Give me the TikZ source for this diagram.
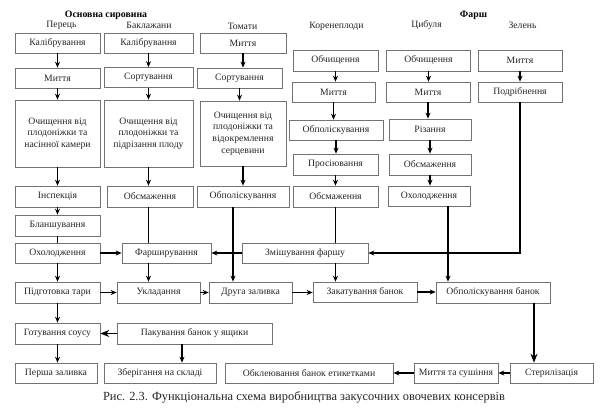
\documentclass[tikz,border=0pt]{standalone}
\usepackage{fontspec}
\setmainfont{Liberation Serif}
\usetikzlibrary{arrows.meta}
\begin{document}
\begin{tikzpicture}[x=1pt,y=-1pt,
  box/.style={draw=black!55, line width=0.7pt, fill=white, inner sep=1pt,
    font=\fontsize{9.7}{11.6}\selectfont, text=black!85, align=center},
  arr/.style={-{Stealth[length=6pt,width=5pt]}, line width=1.1pt},
  ln/.style={line width=1.1pt},
  bigarr/.style={-{Stealth[length=9pt,width=7pt]}, line width=1.1pt},
  hdr/.style={font=\fontsize{9.7}{11}\selectfont, text=black!85},
  bhdr/.style={font=\bfseries\fontsize{9.8}{11}\selectfont},
]
\useasboundingbox[fill=white] (0,0) rectangle (600,413);

% headers
\node[bhdr] (h1) at (106,15) {Основна сировина};
\node[bhdr] (h2) at (473.5,15) {Фарш};
\node[hdr] (hp) at (61.5,25.5) {Перець};
\node[hdr] (hb) at (149,25.5) {Баклажани};
\node[hdr] (ht) at (242.5,26) {Томати};
\node[hdr] (hk) at (336.5,26) {Коренеплоди};
\node[hdr] (hc) at (426.5,25.5) {Цибуля};
\node[hdr] (hz) at (522.5,25.5) {Зелень};

% column 1
\node[box, minimum width=85pt, minimum height=20pt] (p1) at (57.5,43) {Калібрування};
\node[box, minimum width=85pt, minimum height=20pt] (p2) at (57.5,78) {Миття};
\node[box, minimum width=85pt, minimum height=67pt] (p3) at (57.5,133.5) {Очищення від\\плодоніжки та\\насінної камери};
\node[box, minimum width=85pt, minimum height=21pt] (p4) at (57.5,196.5) {Інспекція};
\node[box, minimum width=85pt, minimum height=21pt] (p5) at (57.5,225.5) {Бланшування};
\node[box, minimum width=85pt, minimum height=20pt] (p6) at (57.5,253) {Охолодження};
\node[box, minimum width=85pt, minimum height=21pt] (p7) at (57.5,292.5) {Підготовка тари};
\node[box, minimum width=85pt, minimum height=21pt] (p8) at (57.5,333.5) {Готування соусу};
\node[box, minimum width=82pt, minimum height=20pt] (p9) at (56,373) {Перша заливка};

% column 2
\node[box, minimum width=89pt, minimum height=20pt] (b1) at (148.5,43) {Калібрування};
\node[box, minimum width=89pt, minimum height=20pt] (b2) at (148.5,77.5) {Сортування};
\node[box, minimum width=89pt, minimum height=67pt] (b3) at (148.5,133.5) {Очищення від\\плодоніжки та\\підрізання плоду};
\node[box, minimum width=86pt, minimum height=21pt] (b4) at (150,196.5) {Обсмаження};
\node[box, minimum width=89pt, minimum height=20pt] (f) at (166.5,253) {Фарширування};
\node[box, minimum width=83pt, minimum height=21pt] (u) at (158.5,292.5) {Укладання};
\node[box, minimum width=155pt, minimum height=21pt] (pk) at (194.5,333.5) {Пакування банок у ящики};
\node[box, minimum width=112pt, minimum height=20pt] (zb) at (160,373) {Зберігання на складі};

% column 3
\node[box, minimum width=86pt, minimum height=20pt] (t1) at (243,43) {Миття};
\node[box, minimum width=85pt, minimum height=20pt] (t2) at (239.5,78) {Сортування};
\node[box, minimum width=86pt, minimum height=65pt] (t3) at (243,133.5) {Очищення від\\плодоніжки та\\відокремлення\\серцевини};
\node[box, minimum width=92pt, minimum height=21pt] (t4) at (243,196.5) {Обполіскування};
\node[box, minimum width=83pt, minimum height=21pt] (dz) at (250.5,292.5) {Друга заливка};

% column 4
\node[box, minimum width=85pt, minimum height=21pt] (k1) at (335.5,60.5) {Обчищення};
\node[box, minimum width=83pt, minimum height=20pt] (k2) at (333.5,92) {Миття};
\node[box, minimum width=94pt, minimum height=20pt] (k3) at (336,130) {Обполіскування};
\node[box, minimum width=85pt, minimum height=21pt] (k4) at (335.5,164.5) {Просіювання};
\node[box, minimum width=85pt, minimum height=21pt] (k5) at (335.5,196.5) {Обсмаження};
\node[box, minimum width=126pt, minimum height=20pt] (zm) at (305,253) {Змішування фаршу};
\node[box, minimum width=104pt, minimum height=20pt] (zk) at (365,292) {Закатування банок};

% column 5
\node[box, minimum width=84pt, minimum height=21pt] (c1) at (428.5,60.5) {Обчищення};
\node[box, minimum width=84pt, minimum height=20pt] (c2) at (428,92) {Миття};
\node[box, minimum width=82pt, minimum height=21pt] (c3) at (430,129.5) {Різання};
\node[box, minimum width=82pt, minimum height=21pt] (c4) at (430,164.5) {Обсмаження};
\node[box, minimum width=82pt, minimum height=20pt] (c5) at (429,196) {Охолодження};
\node[box, minimum width=114pt, minimum height=21pt] (ob) at (493,292.5) {Обполіскування банок};
\node[box, minimum width=83pt, minimum height=20pt] (st) at (551.5,373) {Стерилізація};
\node[box, minimum width=84pt, minimum height=20pt] (ms) at (456,373) {Миття та сушіння};
\node[box, minimum width=168pt, minimum height=20pt] (oe) at (309,373) {Обклеювання банок етикетками};

% column 6
\node[box, minimum width=84pt, minimum height=21pt] (z1) at (520,60.5) {Миття};
\node[box, minimum width=84pt, minimum height=20pt] (z2) at (520,92) {Подрібнення};

% caption
\node[font=\fontsize{12.4}{14}\selectfont, text=black!85] (cap) at (304,397.5) {Рис. 2.3. Функціональна схема виробництва закусочних овочевих консервів};

% vertical arrows in columns
\foreach \a/\b in {p1/p2,p2/p3,p3/p4,p4/p5,p6/p7,p7/p8,p8/p9,b1/b2,b2/b3,b3/b4,t1/t2,t2/t3,t3/t4,k1/k2,k2/k3,k3/k4,k4/k5,c1/c2,c2/c3,c3/c4,c4/c5,z1/z2}
  \draw[arr] (\a.south) -- (\a.south |- \b.north);

\draw[ln] (p5.south) -- (p5.south |- p6.north);
\draw[ln] (b3.south |- b4.south) -- (b3.south |- f.north);
\draw[arr] (b3.south |- f.south) -- (b3.south |- u.north);
\draw[arr] (p6.east) -- (f.west);
\draw[arr] (zm.west) -- (f.east);
\draw[arr] (p7.east) -- (u.west);
\draw[arr] (u.east) -- (dz.west);
\draw[arr] (dz.east) -- (dz.east -| zk.west);
\draw[arr] (zk.east) -- (zk.east -| ob.west);
\draw[arr] ([xshift=-10pt]t4.south) -- ([xshift=-10pt]t4.south |- dz.north);
\draw[ln] (k5.south) -- (k5.south |- zm.north);
\draw[arr] (k5.south |- zm.south) -- (k5.south |- zk.north);
\draw[arr] ([xshift=19pt]c5.south) -- ([xshift=19pt]c5.south |- ob.north);
\draw[arr] (z2.south) |- (zm.east);
\draw[bigarr] ([xshift=41pt]ob.south) -- ([xshift=41pt]ob.south |- st.north);
\draw[arr] (st.west) -- (ms.east);
\draw[arr] (ms.west) -- (oe.east);
\draw[bigarr] (pk.west) -- (p8.east);
\draw[arr] ([xshift=-12.5pt]pk.south) -- ([xshift=-12.5pt]pk.south |- zb.north);
\end{tikzpicture}
\end{document}
